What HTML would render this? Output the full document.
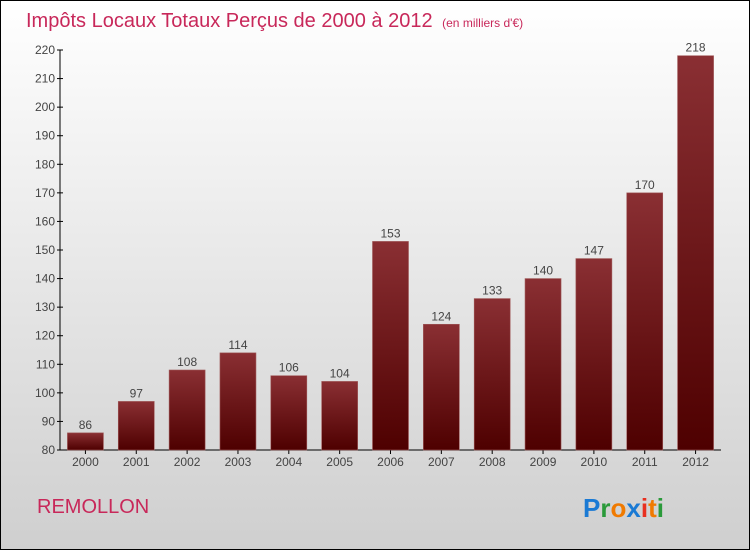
<!DOCTYPE html>
<html><head><meta charset="utf-8"><style>
body{margin:0}
#c{position:relative;width:748px;height:548px;border:1px solid #000;background:linear-gradient(#ffffff,#cfcfcf);font-family:"Liberation Sans",sans-serif;overflow:hidden}
</style></head><body>
<div id="c">
<svg width="748" height="548">
<defs><linearGradient id="bg" x1="0" y1="0" x2="0" y2="1"><stop offset="0" stop-color="#8a2f33"/><stop offset="1" stop-color="#4e0000"/></linearGradient></defs>
<text x="25" y="26" font-size="20" fill="#c8285a">Impôts Locaux Totaux Perçus de 2000 à 2012 <tspan font-size="12" dx="4">(en milliers d'€)</tspan></text>
<g id="axes"></g><g id="bars"></g>
<text x="36" y="512" font-size="20" fill="#c8285a">REMOLLON</text>
<g font-size="26" font-weight="bold" font-family="'Liberation Sans',sans-serif">
<text x="582" y="516"><tspan fill="#1a7ad4">P</tspan><tspan fill="#2a9a3a">r</tspan><tspan fill="#f07a00">o</tspan><tspan fill="#1a7ad4">x</tspan><tspan fill="#e83020">i</tspan><tspan fill="#f07a00">t</tspan><tspan fill="#2a9a3a">i</tspan></text>
</g>
</svg></div>
<script>
const years=["2000","2001","2002","2003","2004","2005","2006","2007","2008","2009","2010","2011","2012"];
const values=[86,97,108,114,106,104,153,124,133,140,147,170,218];
const ticks=[80,90,100,110,120,130,140,150,160,170,180,190,200,210,220];
const NS="http://www.w3.org/2000/svg";
const x0=59,x1=720,yTop=49,yBot=449,vMin=80,vMax=220;
const y=v=>yBot-(v-vMin)/(vMax-vMin)*(yBot-yTop);
const slot=(x1-x0)/years.length;
const xc=i=>x0+slot*(i+0.5);
function mk(t,a,p){const e=document.createElementNS(NS,t);for(const k in a)e.setAttribute(k,a[k]);p.appendChild(e);return e;}
const ax=document.getElementById('axes'),bg=document.getElementById('bars');
const yl=mk('line',{x1:x0,x2:x0,y1:yTop,y2:yBot,stroke:'#000'},ax);


const xl=mk('line',{x1:x0,x2:x1,y1:yBot,y2:yBot,stroke:'#000'},ax);


ticks.forEach(t=>{
 mk('line',{x1:x0-3,x2:x0+3,y1:y(t),y2:y(t),stroke:'#000'},ax);
 const tx=mk('text',{x:x0-5,y:y(t)+4,'text-anchor':'end','font-size':12,fill:'#444'},ax);
 tx.textContent=t;
 
 
});
years.forEach((yr,i)=>{
 const v=values[i],w=36;
 const r=mk('rect',{x:xc(i)-w/2,y:y(v),width:w,height:yBot-y(v),fill:'url(#bg)',stroke:'#a05a5a','stroke-width':0.6},bg);
 
 
 const lb=mk('text',{x:xc(i),y:y(v)-4,'text-anchor':'middle','font-size':12,fill:'#444'},bg);
 lb.textContent=v;
 
 
 mk('line',{x1:xc(i),x2:xc(i),y1:yBot,y2:yBot+4,stroke:'#000'},ax);
 const xt=mk('text',{x:xc(i),y:yBot+16,'text-anchor':'middle','font-size':12,fill:'#444'},ax);
 xt.textContent=yr;
 
 
});
</script>
</body></html>
